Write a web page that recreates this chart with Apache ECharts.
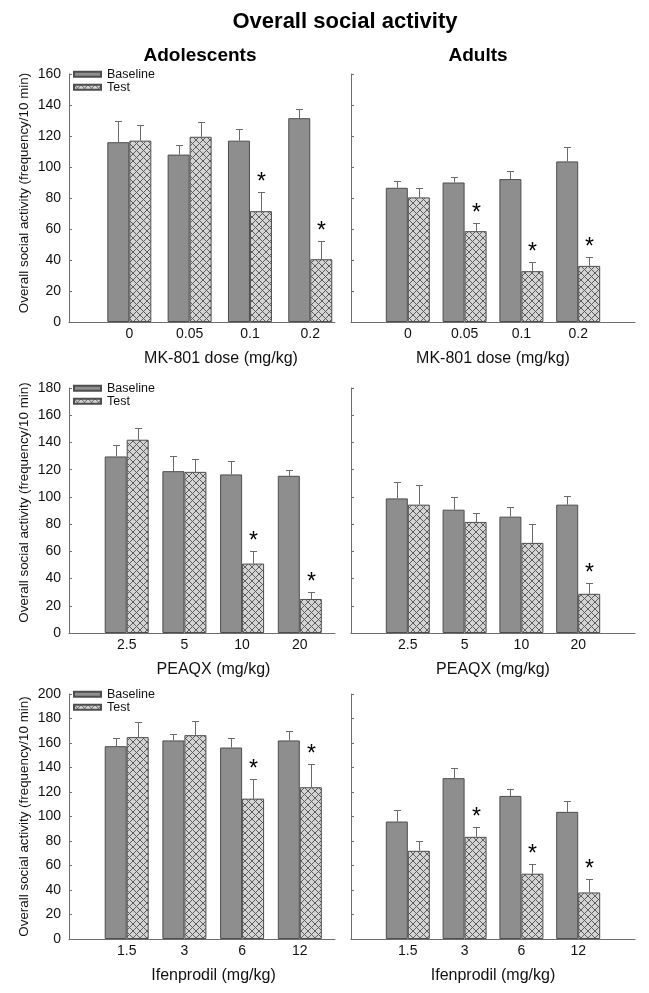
<!DOCTYPE html>
<html><head><meta charset="utf-8">
<script src="https://cdn.jsdelivr.net/npm/echarts@6/dist/echarts.min.js"></script>
<style>html,body{margin:0;padding:0;background:#fff}#c{width:649px;height:993px}</style>
</head><body><div id="c"></div>
<script>
// ---- categories ----
const mkDoses = ['0', '0.05', '0.1', '0.2'];
const peaqxDoses = ['2.5', '5', '10', '20'];
const ifenDoses = ['1.5', '3', '6', '12'];

// ---- Adolescents, MK-801 ----
const adoMkBase = [116, 108, 117, 131.5];
const adoMkBaseSem = [13.8, 6, 7.8, 6];
const adoMkTest = [117, 119.5, 71.5, 40.5];
const adoMkTestSem = [10, 9.5, 12.5, 11.8];
const adoMkStars = [0, 0, 1, 1];

// ---- Adults, MK-801 ----
const aduMkBase = [86.6, 90, 92.2, 103.6];
const aduMkBaseSem = [4.3, 3.5, 5, 9.3];
const aduMkTest = [80.4, 58.6, 32.8, 36.2];
const aduMkTestSem = [6.2, 5.4, 6, 5.8];
const aduMkStars = [0, 1, 1, 1];

// ---- Adolescents, PEAQX ----
const adoPqBase = [129.7, 118.9, 116.5, 115.5];
const adoPqBaseSem = [8.6, 11.1, 9.8, 4.4];
const adoPqTest = [142, 118.4, 51, 25];
const adoPqTestSem = [8.8, 9.6, 9.3, 5.4];
const adoPqStars = [0, 0, 1, 1];

// ---- Adults, PEAQX ----
const aduPqBase = [98.9, 90.6, 85.5, 94.3];
const aduPqBaseSem = [11.7, 9.1, 7.1, 6.1];
const aduPqTest = [94.3, 81.6, 66.2, 28.8];
const aduPqTestSem = [14.4, 6.6, 14.2, 7.6];
const aduPqStars = [0, 0, 0, 1];

// ---- Adolescents, Ifenprodil ----
const adoIfBase = [157.4, 162.1, 156.3, 162.1];
const adoIfBaseSem = [6.3, 5.4, 7.4, 7.3];
const adoIfTest = [164.8, 166.4, 114.6, 123.9];
const adoIfTestSem = [12, 11.5, 16.4, 18.8];
const adoIfStars = [0, 0, 1, 1];

// ---- Adults, Ifenprodil ----
const aduIfBase = [95.9, 131.3, 116.8, 103.8];
const aduIfBaseSem = [9, 8.4, 5.5, 9];
const aduIfTest = [72, 83.4, 53.3, 38];
const aduIfTestSem = [8.4, 7.9, 8.1, 11.2];
const aduIfStars = [0, 1, 1, 1];

// ---- y tick maxima ----
const yMaxMk = 160, yMaxPq = 180, yMaxIf = 200, yStep = 20;

const xNames = ['MK-801 dose (mg/kg)', 'PEAQX (mg/kg)', 'Ifenprodil (mg/kg)'];
const yName = 'Overall social activity (frequency/10 min)';
const seriesNames = ['Baseline', 'Test'];

const panels = [
  {doses: mkDoses, base: adoMkBase, baseSem: adoMkBaseSem, test: adoMkTest, testSem: adoMkTestSem, stars: adoMkStars, xName: xNames[0], yMax: yMaxMk},
  {doses: mkDoses, base: aduMkBase, baseSem: aduMkBaseSem, test: aduMkTest, testSem: aduMkTestSem, stars: aduMkStars, xName: xNames[0], yMax: yMaxMk},
  {doses: peaqxDoses, base: adoPqBase, baseSem: adoPqBaseSem, test: adoPqTest, testSem: adoPqTestSem, stars: adoPqStars, xName: xNames[1], yMax: yMaxPq},
  {doses: peaqxDoses, base: aduPqBase, baseSem: aduPqBaseSem, test: aduPqTest, testSem: aduPqTestSem, stars: aduPqStars, xName: xNames[1], yMax: yMaxPq},
  {doses: ifenDoses, base: adoIfBase, baseSem: adoIfBaseSem, test: adoIfTest, testSem: adoIfTestSem, stars: adoIfStars, xName: xNames[2], yMax: yMaxIf},
  {doses: ifenDoses, base: aduIfBase, baseSem: aduIfBaseSem, test: aduIfTest, testSem: aduIfTestSem, stars: aduIfStars, xName: xNames[2], yMax: yMaxIf}
];

// ---- layout (pixels) ----
const layout = [
  {left: 69, top: 74, width: 266, height: 248, xMax: 4.41, isLeft: true, namePad: 38, yNamePad: 10},
  {left: 351, top: 74, width: 284, height: 248, xMax: 5, isLeft: false, namePad: 0},
  {left: 69, top: 388, width: 266, height: 245, xMax: 4.61, isLeft: true, namePad: 23, yNamePad: 16},
  {left: 351, top: 388, width: 284, height: 245, xMax: 5, isLeft: false, namePad: 0},
  {left: 69, top: 694, width: 266, height: 245, xMax: 4.61, isLeft: true, namePad: 23, yNamePad: 0},
  {left: 351, top: 694, width: 284, height: 245, xMax: 5, isLeft: false, namePad: 0}
];

const FONT = 'Liberation Sans, Arial, Helvetica, sans-serif';
const AXIS_COLOR = '#6e6e6e';
const BAR_W = 22;

function hatchCanvas() {
  const s = 7;
  const c = document.createElement('canvas');
  c.width = s; c.height = s;
  const g = c.getContext('2d');
  g.fillStyle = '#d4d4d4';
  g.fillRect(0, 0, s, s);
  g.strokeStyle = '#555555';
  g.lineWidth = 0.95;
  g.beginPath();
  g.moveTo(-1, -1); g.lineTo(s + 1, s + 1);
  g.moveTo(s + 1, -1); g.lineTo(-1, s + 1);
  g.stroke();
  return c;
}
const hatch = {image: hatchCanvas(), repeat: 'repeat'};

const grid = [], xAxis = [], yAxis = [], series = [], legend = [];

panels.forEach((p, i) => {
  const L = layout[i];
  grid.push({left: L.left, top: L.top, width: L.width, height: L.height, containLabel: false});
  xAxis.push({
    type: 'value', gridIndex: i, min: 0, max: L.xMax, interval: 1,
    name: p.xName, nameLocation: 'middle', nameGap: 29,
    nameTextStyle: {fontFamily: FONT, fontSize: 16, color: '#111', padding: [0, 0, 0, L.namePad]},
    axisLine: {show: true, onZero: false, lineStyle: {color: AXIS_COLOR, width: 1}},
    axisTick: {show: false},
    splitLine: {show: false},
    axisLabel: {
      fontFamily: FONT, fontSize: 14, color: '#111', margin: 5,
      showMinLabel: true, showMaxLabel: true,
      formatter: (v) => (Number.isInteger(v) && v >= 1 && v <= p.doses.length) ? p.doses[v - 1] : ''
    }
  });
  yAxis.push({
    type: 'value', gridIndex: i, min: 0, max: p.yMax, interval: yStep,
    name: L.isLeft ? yName : '', nameLocation: 'middle', nameGap: 38,
    nameTextStyle: {fontFamily: FONT, fontSize: 13.4, color: '#111', padding: [0, 0, 0, L.yNamePad || 0]},
    axisLine: {show: true, lineStyle: {color: AXIS_COLOR, width: 1}},
    axisTick: {show: true, inside: true, length: 3, lineStyle: {color: AXIS_COLOR}},
    splitLine: {show: false},
    axisLabel: {show: L.isLeft, fontFamily: FONT, fontSize: 14, color: '#111', margin: 8}
  });

  const mk = (vals) => vals.map((v, k) => [k + 1, v]);
  series.push({
    name: seriesNames[0], type: 'bar', xAxisIndex: i, yAxisIndex: i,
    barWidth: BAR_W, barGap: '0%', data: mk(p.base),
    itemStyle: {color: '#8e8e8e', borderColor: '#4d4d4d', borderWidth: 1},
    emphasis: {disabled: true}, animation: false
  });
  series.push({
    name: seriesNames[1], type: 'bar', xAxisIndex: i, yAxisIndex: i,
    barWidth: BAR_W, barGap: '0%', data: mk(p.test),
    itemStyle: {color: hatch, borderColor: '#4d4d4d', borderWidth: 1},
    emphasis: {disabled: true}, animation: false
  });

  const errSeries = (vals, sems, stars, offset) => ({
    type: 'custom', xAxisIndex: i, yAxisIndex: i, z: 5, animation: false, silent: true,
    data: vals.map((v, k) => [k + 1, v, sems[k], stars ? stars[k] : 0]),
    renderItem: (params, api) => {
      const x = api.value(0), m = api.value(1), e = api.value(2), s = api.value(3);
      const p0 = api.coord([x, m]);
      const p1 = api.coord([x, m + e]);
      const cx = Math.round(p0[0] + offset) + 0.5;
      const ty = Math.round(p1[1]) + 0.5;
      const children = [
        {type: 'line', shape: {x1: cx, y1: p0[1], x2: cx, y2: ty}, style: {stroke: '#6a6a6a', lineWidth: 1}},
        {type: 'line', shape: {x1: cx - 3.5, y1: ty, x2: cx + 3.5, y2: ty}, style: {stroke: '#6a6a6a', lineWidth: 1}}
      ];
      if (s) {
        children.push({type: 'text', x: cx, y: ty - 10,
          style: {text: '*', font: '23px ' + FONT, fill: '#000', align: 'center', verticalAlign: 'middle'}});
      }
      return {type: 'group', children};
    }
  });
  series.push(errSeries(p.base, p.baseSem, null, -BAR_W / 2));
  series.push(errSeries(p.test, p.testSem, p.stars, BAR_W / 2));

  if (L.isLeft) {
    legend.push({
      data: seriesNames.map(n => ({name: n, icon: 'rect'})),
      orient: 'vertical', left: 73, top: L.top - 6.3, padding: 0,
      itemWidth: 27, itemHeight: 5, itemGap: 0,
      textStyle: {fontFamily: FONT, fontSize: 12.5, color: '#111', padding: [0, 0, 0, 1]},
      selectedMode: false
    });
  }
});

const chart = echarts.init(document.getElementById('c'), null, {renderer: 'canvas'});
chart.setOption({
  backgroundColor: '#fff',
  animation: false,
  title: [
    {text: 'Overall social activity', left: 345, top: 11, textAlign: 'center', padding: 0,
      textStyle: {fontFamily: FONT, fontWeight: 'bold', fontSize: 22, color: '#000'}},
    {text: 'Adolescents', left: 200, top: 46, textAlign: 'center', padding: 0,
      textStyle: {fontFamily: FONT, fontWeight: 'bold', fontSize: 19, color: '#000'}},
    {text: 'Adults', left: 478, top: 46, textAlign: 'center', padding: 0,
      textStyle: {fontFamily: FONT, fontWeight: 'bold', fontSize: 19, color: '#000'}}
  ],
  legend,
  grid, xAxis, yAxis, series
});
</script>
</body></html>
